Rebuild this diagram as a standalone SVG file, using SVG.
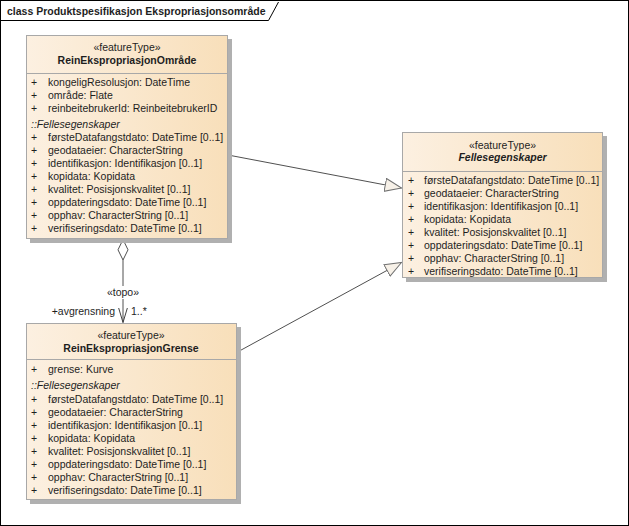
<svg xmlns="http://www.w3.org/2000/svg" width="629" height="526" viewBox="0 0 629 526">
<defs>
<linearGradient id="g" x1="0" y1="0" x2="1" y2="0">
<stop offset="0" stop-color="#FCF0E1"/>
<stop offset="1" stop-color="#F8DFBA"/>
</linearGradient>
<marker id="gen" markerUnits="userSpaceOnUse" markerWidth="20" markerHeight="16" refX="17" refY="7" orient="auto">
<path d="M0.5,0.5 L17,7 L0.5,13.5 Z" fill="#F7F1E8" stroke="#707070" stroke-width="1"/>
</marker>
<marker id="open" markerUnits="userSpaceOnUse" markerWidth="18" markerHeight="14" refX="15" refY="6" orient="auto">
<path d="M0,1.5 L15,6 L0,10.5" fill="none" stroke="#404040" stroke-width="1"/>
</marker>
</defs>
<style>
text{font-family:"Liberation Sans",Arial,sans-serif;font-size:10.5px;fill:#1E1E1E}
.c{text-anchor:middle}
.b{font-weight:bold}
.i{font-style:italic}
.box{fill:url(#g);stroke:#A8A8A8;stroke-width:1}
.sh{fill:#B0B0B0}
.sep{stroke:#A8A8A8;stroke-width:1}
.ln{stroke:#505050;stroke-width:1;fill:none}
</style>
<rect x="0.5" y="0.5" width="628" height="525" fill="#FFFFFF" stroke="#000000"/>
<path d="M0.5,20.5 L268.5,20.5 L278.5,2" fill="none" stroke="#000000"/>
<text x="7" y="14.5" class="b">class Produktspesifikasjon Ekspropriasjonsområde</text>

<g id="connectors">
<path class="ln" d="M228,155 L401.5,188" marker-end="url(#gen)"/>
<path class="ln" d="M237.5,352 L401.5,262.5" marker-end="url(#gen)"/>
<path class="ln" d="M123,260 L123,322.5" marker-end="url(#open)"/>
<path d="M123,239.5 L128,249.8 L123,260 L118,249.8 Z" fill="#FFFFFF" stroke="#505050"/>
<rect x="104" y="286" width="38" height="13" fill="#FFFFFF"/>
<text x="123" y="296" class="c">«topo»</text>
<text x="115" y="315" text-anchor="end">+avgrensning</text>
<text x="131" y="315">1..*</text>
</g>

<g id="ReinEkspropriasjonOmrade">
<rect class="sh" x="30" y="39" width="202" height="204"/>
<rect class="box" x="26.5" y="35.5" width="201" height="203"/>
<line class="sep" x1="26.5" y1="73.5" x2="227.5" y2="73.5"/>
<text x="127" y="51" class="c">«featureType»</text>
<text x="127" y="64" class="c b">ReinEkspropriasjonOmråde</text>
<text x="31" y="86">+</text><text x="48" y="86">kongeligResolusjon: DateTime</text>
<text x="31" y="99">+</text><text x="48" y="99">område: Flate</text>
<text x="31" y="112">+</text><text x="48" y="112">reinbeitebrukerId: ReinbeitebrukerID</text>
<text x="31" y="128" class="i">::Fellesegenskaper</text>
<text x="31" y="141">+</text><text x="48" y="141">førsteDatafangstdato: DateTime [0..1]</text>
<text x="31" y="154">+</text><text x="48" y="154">geodataeier: CharacterString</text>
<text x="31" y="167">+</text><text x="48" y="167">identifikasjon: Identifikasjon [0..1]</text>
<text x="31" y="180">+</text><text x="48" y="180">kopidata: Kopidata</text>
<text x="31" y="193">+</text><text x="48" y="193">kvalitet: Posisjonskvalitet [0..1]</text>
<text x="31" y="206">+</text><text x="48" y="206">oppdateringsdato: DateTime [0..1]</text>
<text x="31" y="219">+</text><text x="48" y="219">opphav: CharacterString [0..1]</text>
<text x="31" y="232">+</text><text x="48" y="232">verifiseringsdato: DateTime [0..1]</text>
</g>

<g id="ReinEkspropriasjonGrense">
<rect class="sh" x="30" y="327" width="211" height="177"/>
<rect class="box" x="26.5" y="323.5" width="210" height="176"/>
<line class="sep" x1="26.5" y1="359.5" x2="236.5" y2="359.5"/>
<text x="131" y="339" class="c">«featureType»</text>
<text x="131" y="352" class="c b">ReinEkspropriasjonGrense</text>
<text x="31" y="373">+</text><text x="48" y="373">grense: Kurve</text>
<text x="31" y="389" class="i">::Fellesegenskaper</text>
<text x="31" y="403">+</text><text x="48" y="403">førsteDatafangstdato: DateTime [0..1]</text>
<text x="31" y="416">+</text><text x="48" y="416">geodataeier: CharacterString</text>
<text x="31" y="429">+</text><text x="48" y="429">identifikasjon: Identifikasjon [0..1]</text>
<text x="31" y="442">+</text><text x="48" y="442">kopidata: Kopidata</text>
<text x="31" y="455">+</text><text x="48" y="455">kvalitet: Posisjonskvalitet [0..1]</text>
<text x="31" y="468">+</text><text x="48" y="468">oppdateringsdato: DateTime [0..1]</text>
<text x="31" y="481">+</text><text x="48" y="481">opphav: CharacterString [0..1]</text>
<text x="31" y="494">+</text><text x="48" y="494">verifiseringsdato: DateTime [0..1]</text>
</g>

<g id="Fellesegenskaper">
<rect class="sh" x="406" y="136" width="201" height="146"/>
<rect class="box" x="402.5" y="132.5" width="200" height="145"/>
<line class="sep" x1="402.5" y1="171.5" x2="602.5" y2="171.5"/>
<text x="502.5" y="149" class="c">«featureType»</text>
<text x="502.5" y="161" class="c b i">Fellesegenskaper</text>
<text x="408" y="184">+</text><text x="424" y="184">førsteDatafangstdato: DateTime [0..1]</text>
<text x="408" y="197">+</text><text x="424" y="197">geodataeier: CharacterString</text>
<text x="408" y="210">+</text><text x="424" y="210">identifikasjon: Identifikasjon [0..1]</text>
<text x="408" y="223">+</text><text x="424" y="223">kopidata: Kopidata</text>
<text x="408" y="236">+</text><text x="424" y="236">kvalitet: Posisjonskvalitet [0..1]</text>
<text x="408" y="249">+</text><text x="424" y="249">oppdateringsdato: DateTime [0..1]</text>
<text x="408" y="262">+</text><text x="424" y="262">opphav: CharacterString [0..1]</text>
<text x="408" y="275">+</text><text x="424" y="275">verifiseringsdato: DateTime [0..1]</text>
</g>
</svg>
